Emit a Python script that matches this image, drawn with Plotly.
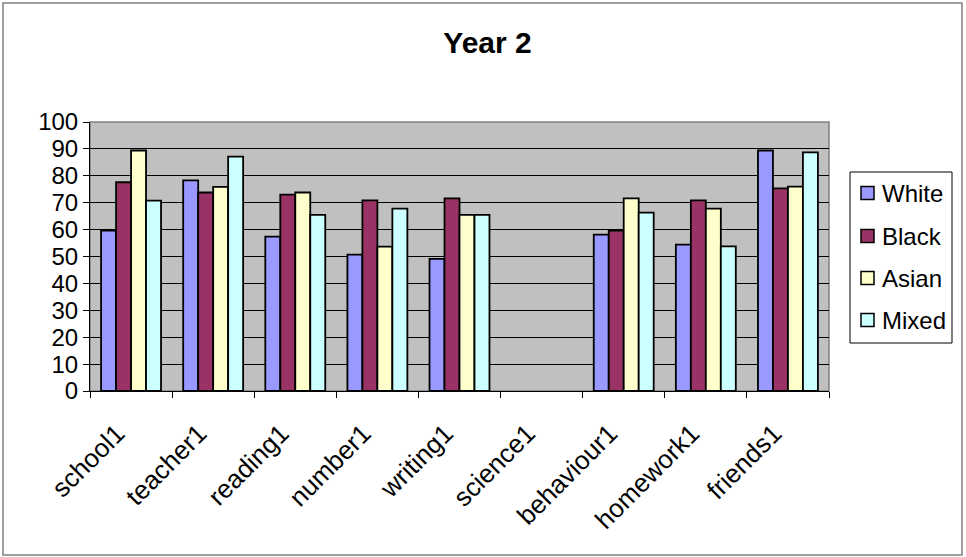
import plotly.graph_objects as go

categories = ["school1", "teacher1", "reading1", "number1", "writing1",
              "science1", "behaviour1", "homework1", "friends1"]
white = [59.6, 78.3, 57.4, 50.7, 49.1, None, 58.1, 54.4, 89.4]
black = [77.6, 73.8, 73.0, 70.9, 71.6, None, 59.6, 70.9, 75.3]
asian = [89.4, 75.9, 73.8, 53.7, 65.5, None, 71.6, 67.8, 76.0]
mixed = [70.8, 87.1, 65.5, 67.8, 65.5, None, 66.3, 53.8, 88.7]

series_names = ["White", "Black", "Asian", "Mixed"]
series_values = [white, black, asian, mixed]
series_colors = ["#9999FF", "#993366", "#FFFFCC", "#CCFFFF"]

FONT = "Liberation Sans, Arial, sans-serif"

# pixel geometry of plot area
L, R, T, B = 90, 829, 122, 391
W, H = R - L, B - T
def px(x):
    return (x - L) / W
def py(y):
    return (B - y) / H

fig = go.Figure()
for name, vals, col in zip(series_names, series_values, series_colors):
    fig.add_trace(go.Bar(
        x=categories, y=vals, name=name,
        marker=dict(color=col, line=dict(color="black", width=1.8)),
        showlegend=False,
    ))

fig.update_layout(
    width=966, height=557,
    margin=dict(l=L, r=966 - R, t=T, b=557 - B),
    paper_bgcolor="white", plot_bgcolor="#C0C0C0",
    barmode="group", bargap=0.27, bargroupgap=0,
    title=dict(text="<b>Year 2</b>", x=487.5 / 966, xanchor="center",
               y=1 - 42.5 / 557, yanchor="middle",
               font=dict(family=FONT, size=30, color="black")),
    font=dict(family=FONT, size=24, color="black"),
    showlegend=False,
    xaxis=dict(type="category", categoryorder="array", categoryarray=categories,
               range=[-0.5, 8.5],
               showline=True, linecolor="black", linewidth=1,
               ticks="outside", tickson="boundaries", ticklen=6, tickcolor="black",
               tickangle=-45, tickfont=dict(family=FONT, size=26, color="black"),
               ticklabelstandoff=16, ticklabelshift=-14,
               showgrid=False),
    yaxis=dict(range=[0, 100], dtick=10, tick0=0,
               showline=True, linecolor="black", linewidth=1,
               ticks="outside", ticklen=6, tickcolor="black",
               tickfont=dict(family=FONT, size=24, color="black"),
               ticklabelstandoff=0,
               showgrid=True, gridcolor="black", gridwidth=1, zeroline=False),
)

# plot-area gray border
fig.add_shape(type="rect", xref="paper", yref="paper", x0=0, y0=0, x1=1, y1=1,
              line=dict(color="#808080", width=1.5), layer="below")
# outer chart border
fig.add_shape(type="rect", xref="paper", yref="paper",
              x0=px(3), x1=px(962), y0=py(555), y1=py(3),
              line=dict(color="#808080", width=1.5))

# legend (drawn manually to match the original box)
fig.add_shape(type="rect", xref="paper", yref="paper",
              x0=px(850), x1=px(952), y0=py(343), y1=py(172),
              line=dict(color="black", width=1), fillcolor="white")
legend_y = [193, 236, 278, 320]
for name, col, yc in zip(series_names, series_colors, legend_y):
    fig.add_shape(type="rect", xref="paper", yref="paper",
                  x0=px(861), x1=px(874), y0=py(yc + 6.5), y1=py(yc - 6.5),
                  line=dict(color="black", width=1.5), fillcolor=col)
    fig.add_annotation(xref="paper", yref="paper", x=px(880), y=py(yc),
                       xanchor="left", yanchor="middle", showarrow=False,
                       text=name, font=dict(family=FONT, size=24, color="black"))

fig.write_html("out.html")
